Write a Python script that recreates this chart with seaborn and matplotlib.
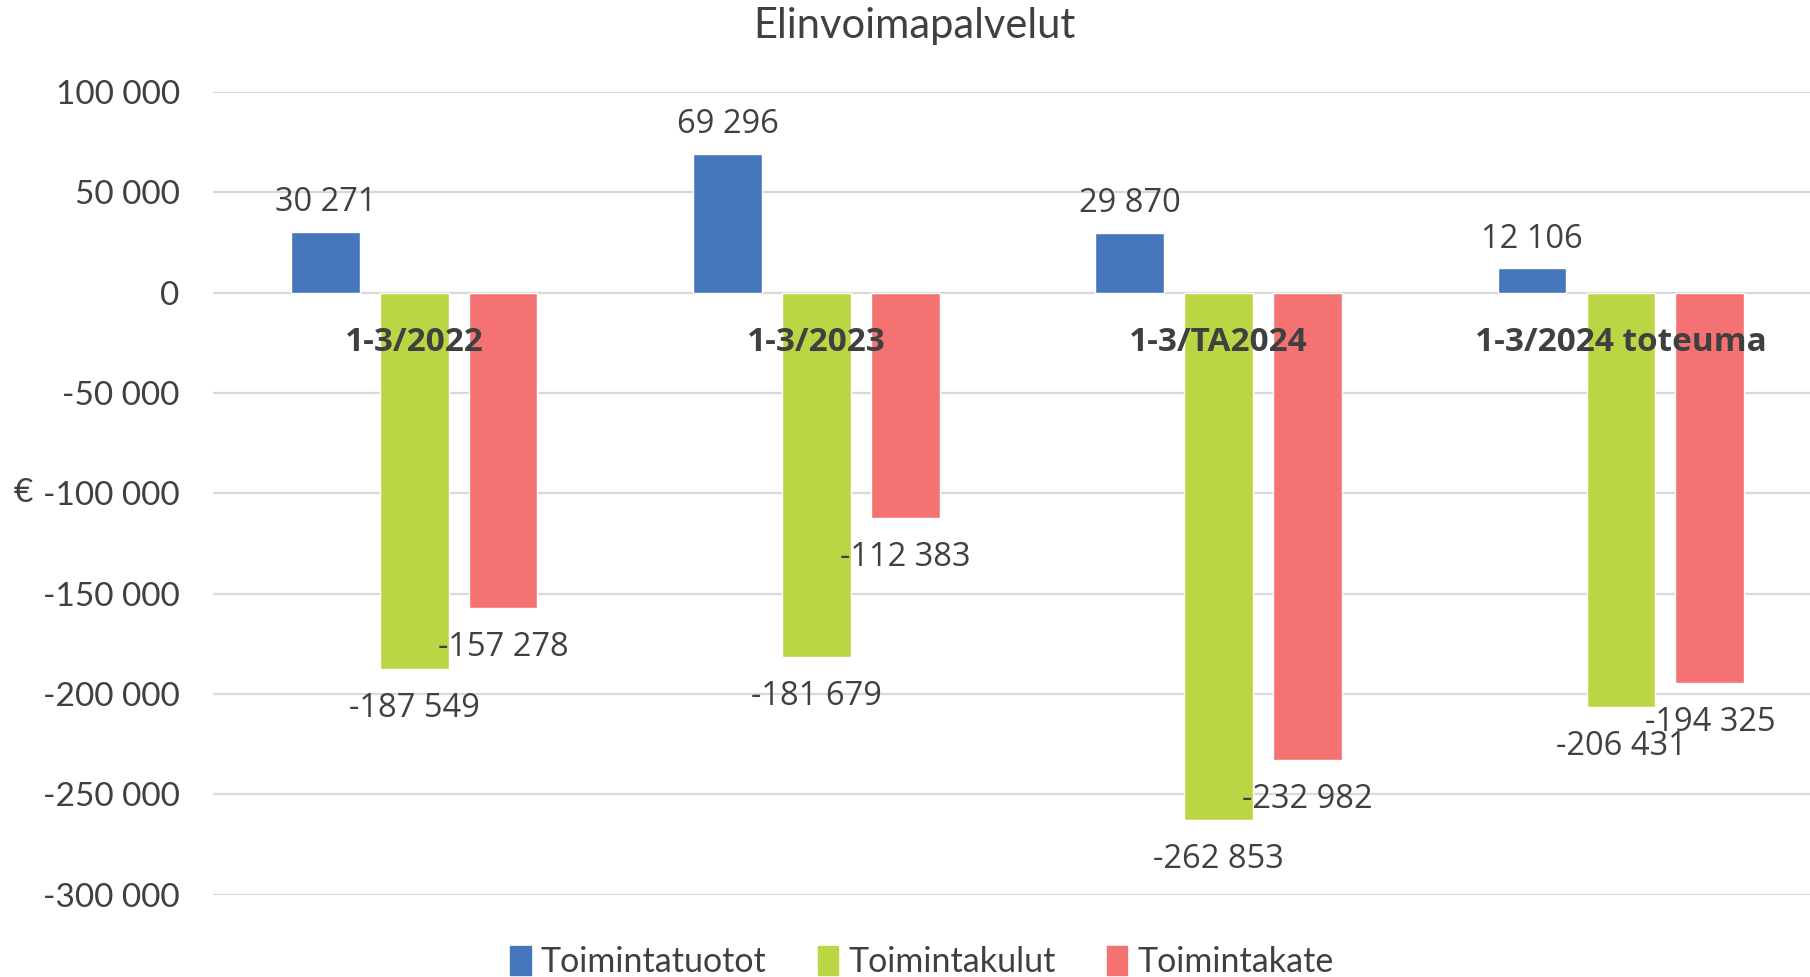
import pandas as pd
import matplotlib
matplotlib.use('Agg')
import matplotlib.pyplot as plt
import seaborn as sns
from matplotlib.patches import Patch

jaksot = ['1-3/2022', '1-3/2023', '1-3/TA2024', '1-3/2024 toteuma']
sarjat = ['Toimintatuotot', 'Toimintakulut', 'Toimintakate']
tuotot = [30271, 69296, 29870, 12106]
kulut = [-187549, -181679, -262853, -206431]
kate = [-157278, -112383, -232982, -194325]
yticks = [100000, 50000, 0, -50000, -100000, -150000, -200000, -250000, -300000]
varit = ['#4677BD', '#BBD645', '#F57272']

df = pd.DataFrame({
    'jakso': jaksot * 3,
    'sarja': [s for s in sarjat for _ in jaksot],
    'arvo': tuotot + kulut + kate,
})

def fmt(v):
    return f'{v:,.0f}'.replace(',', ' ')

sns.set_style('white')
plt.rcParams['font.family'] = ['Lato', 'DejaVu Sans']
tekstivari = '#404040'

fig = plt.figure(figsize=(18.1, 9.77), dpi=100)
ax = fig.add_axes([0.1177, 0.0843, 0.889, 0.8215])

sns.barplot(data=df, x='jakso', y='arvo', hue='sarja', palette=varit,
            width=0.663, gap=0.226, errorbar=None, saturation=1, ax=ax)

ax.set_xlim(-0.5, 3.5)
ax.set_ylim(-300000, 100000)
ax.set_yticks(yticks)
ax.set_yticklabels([fmt(v) for v in yticks], fontsize=24, color=tekstivari)
ax.tick_params(axis='y', length=0, pad=24)
ax.set_xticks(range(len(jaksot)))
ax.set_xticklabels([''] * len(jaksot))
ax.tick_params(axis='x', length=0)
ax.set_xlabel('')
ax.set_ylabel('€', rotation=0, fontsize=24, color=tekstivari, labelpad=14, va='center')
ax.yaxis.grid(True, color='#d9d9d9', linewidth=1.6)
ax.set_axisbelow(True)
for s in ax.spines.values():
    s.set_visible(False)

# arvot: positiiviset palkin yläpuolelle, negatiiviset alapuolelle
for cont in ax.containers:
    ax.bar_label(cont, labels=[fmt(b.get_height()) if b.get_height() > 0 else '' for b in cont],
                 padding=9, fontsize=23.5, color=tekstivari, family='Open Sans')
    ax.bar_label(cont, labels=[fmt(b.get_height()) if b.get_height() < 0 else '' for b in cont],
                 padding=16.5, fontsize=23.5, color=tekstivari, family='Open Sans')

for i, j in enumerate(jaksot):
    ax.annotate(j, (i, 0), xytext=(0, -50), textcoords='offset pixels',
                ha='center', va='center', fontsize=24, fontweight='bold',
                color=tekstivari, family='Open Sans', zorder=5)

ax.get_legend().remove()
kahvat = [Patch(color=c) for c in varit]
fig.legend(kahvat, sarjat, loc='center', bbox_to_anchor=(922 / 1810, 0.015),
           ncol=3, frameon=False, fontsize=24.5, handlelength=0.6, handleheight=0.9,
           handletextpad=0.3, columnspacing=1.5, labelcolor=tekstivari)

fig.text(0.505, 0.973, 'Elinvoimapalvelut', ha='center', va='center',
         fontsize=30, color=tekstivari)

fig.savefig('out.png', dpi=100)
